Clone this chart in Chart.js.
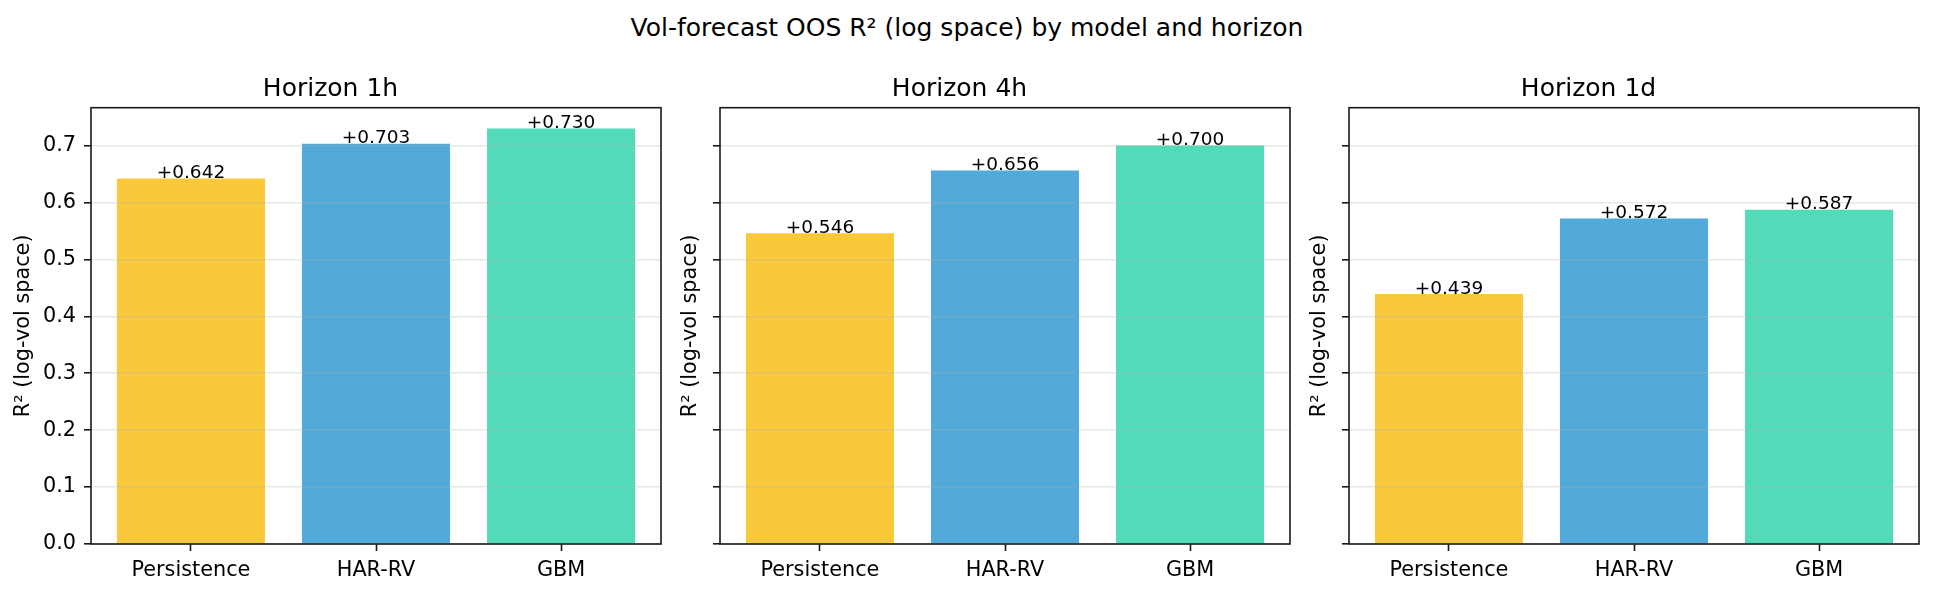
<!DOCTYPE html>
<html><head><meta charset="utf-8">
<script src="https://cdn.jsdelivr.net/npm/chart.js@4.4.1/dist/chart.umd.min.js"></script>
<style>
html,body{margin:0;padding:0;background:#fff;}
body{width:1934px;height:594px;position:relative;overflow:hidden;}
#sup{position:absolute;left:0;width:1934px;top:12.5px;text-align:center;font-family:"DejaVu Sans";font-size:25px;line-height:30px;color:#000;white-space:nowrap;}
.pc{position:absolute;top:0;}
</style></head><body>
<div id="sup">Vol-forecast OOS R² (log space) by model and horizon</div>
<canvas id="c0" class="pc" width="667" height="594"></canvas>
<canvas id="c1" class="pc" width="667" height="594"></canvas>
<canvas id="c2" class="pc" width="667" height="594"></canvas>
<script>
// ---- data ----
const models = ['Persistence', 'HAR-RV', 'GBM'];
const horizons = ['Horizon 1h', 'Horizon 4h', 'Horizon 1d'];
const r2_1h = [0.642, 0.703, 0.730];
const r2_4h = [0.546, 0.656, 0.700];
const r2_1d = [0.439, 0.572, 0.587];
const yTicks = [0.0, 0.1, 0.2, 0.3, 0.4, 0.5, 0.6, 0.7];
const yLabel = 'R² (log-vol space)';
const barColors = ['#F9C93B', '#51AADA', '#52DBB8'];

// ---- layout ----
const FONT = 'DejaVu Sans';
const panelLefts = [91, 720, 1349];
const YW = 91;
const series = [r2_1h, r2_4h, r2_1d];
const yMax = 0.7665;

const framePlugin = {
  id: 'frame',
  afterDraw(chart) {
    const {ctx, chartArea: a} = chart;
    ctx.save();
    ctx.strokeStyle = '#1a1a1a';
    ctx.lineWidth = 1.6;
    ctx.strokeRect(a.left, a.top, a.right - a.left, a.bottom - a.top);
    // value labels
    const meta = chart.getDatasetMeta(0);
    const vals = chart.data.datasets[0].data;
    ctx.fillStyle = '#000';
    ctx.font = '18.5px "' + FONT + '"';
    ctx.textAlign = 'center';
    ctx.textBaseline = 'alphabetic';
    meta.data.forEach((bar, j) => {
      ctx.fillText('+' + vals[j].y.toFixed(3), bar.x, bar.y - 0.5);
    });
    ctx.restore();
  }
};

series.forEach((vals, i) => {
  const cv = document.getElementById('c' + i);
  cv.style.left = (panelLefts[i] - YW) + 'px';
  new Chart(cv, {
    type: 'bar',
    data: {
      datasets: [{
        data: vals.map((v, k) => ({x: k, y: v})),
        backgroundColor: barColors,
        borderWidth: 0,
        categoryPercentage: 0.8,
        barPercentage: 1.0
      }]
    },
    options: {
      responsive: false,
      animation: false,
      devicePixelRatio: 1,
      layout: {padding: {top: 74.7, left: 0, right: 6, bottom: 0}},
      plugins: {
        legend: {display: false},
        tooltip: {enabled: false},
        title: {
          display: true,
          text: horizons[i],
          color: '#000',
          font: {family: FONT, size: 25, weight: 'normal', lineHeight: 1.2},
          padding: {top: 0, bottom: 3}
        }
      },
      scales: {
        x: {
          type: 'linear',
          min: -0.54, max: 2.54,
          offset: false,
          afterBuildTicks: s => { s.ticks = models.map((m, k) => ({value: k})); },
          afterFit: s => { s.height = 50; },
          ticks: {
            autoSkip: false, maxRotation: 0, minRotation: 0,
            color: '#000',
            font: {family: FONT, size: 20.8},
            padding: 7,
            callback: v => models[v]
          },
          grid: {display: true, offset: false, drawOnChartArea: false, drawTicks: true,
                 tickLength: 7, tickColor: '#1a1a1a', tickWidth: 1.6},
          border: {display: false}
        },
        y: {
          type: 'linear',
          min: 0, max: yMax,
          afterBuildTicks: s => { s.ticks = yTicks.map(v => ({value: v})); },
          afterFit: s => { s.width = YW; },
          ticks: {
            color: '#000',
            font: {family: FONT, size: 20.8},
            padding: 8,
            callback: v => (i === 0 ? v.toFixed(1) : '')
          },
          grid: {display: true, offset: false, z: 1, color: 'rgba(176,176,176,0.3)', lineWidth: 1.6,
                 drawTicks: true, tickLength: 7, tickColor: '#1a1a1a', tickWidth: 1.6},
          border: {display: false},
          title: {
            display: true,
            text: yLabel,
            color: '#000',
            font: {family: FONT, size: 20.8, lineHeight: 1.2},
            padding: {top: i === 0 ? 11.3 : 48.8, bottom: 0}
          }
        }
      }
    },
    plugins: [framePlugin]
  });
});
</script>
</body></html>
